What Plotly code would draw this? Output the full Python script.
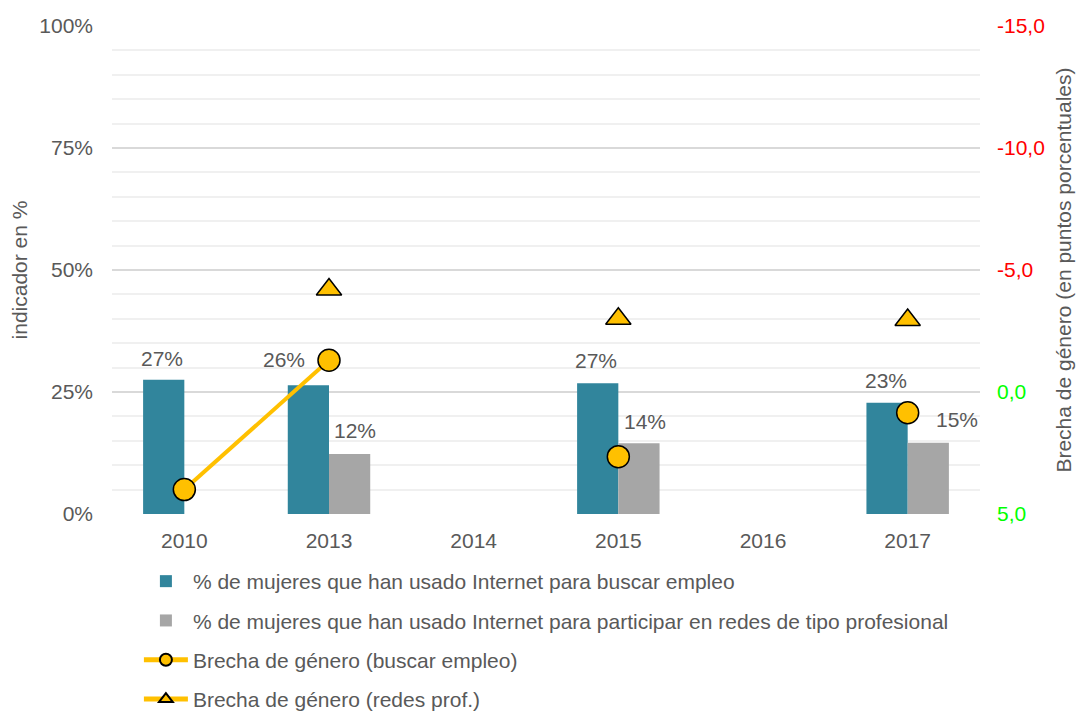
import plotly.graph_objects as go

years = ["2010", "2013", "2014", "2015", "2016", "2017"]
buscar_empleo = [27.5, 26.4, None, 26.8, None, 22.8]
redes_prof = [None, 12.3, None, 14.5, None, 14.6]
brecha_buscar = [4.0, -1.3, None, 2.65, None, 0.85]
brecha_redes = [None, -4.2, None, -3.0, None, -2.95]
label_buscar = ["27%", "26%", None, "27%", None, "23%"]
label_redes = [None, "12%", None, "14%", None, "15%"]
left_ticks = [0, 25, 50, 75, 100]
left_tick_text = ["0%", "25%", "50%", "75%", "100%"]
right_ticks = [-15, -10, -5, 0, 5]
right_tick_text = ["-15,0", "-10,0", "-5,0", "0,0", "5,0"]

TEAL = "#31859C"
GRAY = "#A6A6A6"
GOLD = "#FFC000"
TXT = "#595959"
FONT = "Liberation Sans, Arial, sans-serif"
FS = 21
W, H = 1078, 703

xpos = list(range(len(years)))

fig = go.Figure()
fig.add_trace(go.Bar(x=xpos, y=buscar_empleo, name="% de mujeres que han usado Internet para buscar empleo",
                     marker=dict(color=TEAL, line=dict(width=0)), legendgroup="a",
                     offsetgroup="a", yaxis="y"))
fig.add_trace(go.Bar(x=xpos, y=redes_prof, name="% de mujeres que han usado Internet para participar en redes de tipo profesional",
                     marker=dict(color=GRAY, line=dict(width=0)), legendgroup="b",
                     offsetgroup="b", yaxis="y"))
fig.add_trace(go.Scatter(x=xpos, y=brecha_buscar, name="Brecha de género (buscar empleo)", mode="lines+markers",
                         line=dict(color=GOLD, width=4), connectgaps=False,
                         marker=dict(symbol="circle", size=22, color=GOLD, line=dict(color="black", width=1.5)),
                         legendgroup="c", yaxis="y2"))
fig.add_trace(go.Scatter(x=xpos, y=brecha_redes, name="Brecha de género (redes prof.)", mode="lines+markers",
                         line=dict(color=GOLD, width=4), connectgaps=False,
                         marker=dict(symbol="triangle-up", size=22, color=GOLD, line=dict(color="black", width=1.5)),
                         legendgroup="d", yaxis="y2"))

# data labels
shifts_buscar = [(-22, 21), (-45, 26), None, (-22, 23), None, (-22, 22)]
shifts_redes = [None, (26, 23), None, (27, 22), None, (49, 23)]
for i in xpos:
    if label_buscar[i] is not None:
        dx, dy = shifts_buscar[i]
        fig.add_annotation(x=i, y=buscar_empleo[i], xref="x", yref="y", text=label_buscar[i], showarrow=False,
                           xshift=dx, yshift=dy, font=dict(size=FS, color=TXT, family=FONT))
    if label_redes[i] is not None:
        dx, dy = shifts_redes[i]
        fig.add_annotation(x=i, y=redes_prof[i], xref="x", yref="y", text=label_redes[i], showarrow=False,
                           xshift=dx, yshift=dy, font=dict(size=FS, color=TXT, family=FONT))

tick_colors = ["#FF0000", "#FF0000", "#FF0000", "#00FF00", "#00FF00"]
ticktext2 = [f"<span style='color:{c}'>{t}</span>" for t, c in zip(right_tick_text, tick_colors)]

fig.update_layout(
    width=W, height=H,
    margin=dict(l=104, r=106, t=18, b=197),
    paper_bgcolor="white", plot_bgcolor="white",
    font=dict(family=FONT, color=TXT, size=FS),
    barmode="group", bargap=0.43, bargroupgap=0,
    xaxis=dict(range=[-0.5, 5.5], tickvals=xpos, ticktext=years, showgrid=False, showline=False,
               zeroline=False, ticks="", automargin=False,
               tickfont=dict(size=FS, color=TXT), ticklabelstandoff=12),
    yaxis=dict(range=[0, 100], tickvals=left_ticks, ticktext=left_tick_text,
               showgrid=True, gridcolor="#D9D9D9", gridwidth=1.5,
               minor=dict(dtick=5, showgrid=True, gridcolor="#F0F0F0", gridwidth=1.5),
               zeroline=False, showline=False, ticks="", automargin=False, ticklabelstandoff=18,
               title=dict(text="indicador en %", font=dict(size=FS, color=TXT), standoff=20),
               tickfont=dict(size=FS, color=TXT)),
    yaxis2=dict(range=[5, -15], overlaying="y", side="right", tickvals=right_ticks, ticktext=ticktext2,
                showgrid=False, zeroline=False, showline=False, ticks="", automargin=False, ticklabelstandoff=16,
                title=dict(text="Brecha de género (en puntos porcentuales)", font=dict(size=FS, color=TXT), standoff=12),
                tickfont=dict(size=FS)),
    legend=dict(orientation="v", x=0.031, xanchor="left", yref="container", y=1 - 553 / H, yanchor="top",
                font=dict(size=FS, color=TXT), tracegroupgap=9, itemwidth=44, itemsizing="constant",
                bgcolor="rgba(0,0,0,0)"),
    showlegend=True,
)

fig.write_html("out.html")
